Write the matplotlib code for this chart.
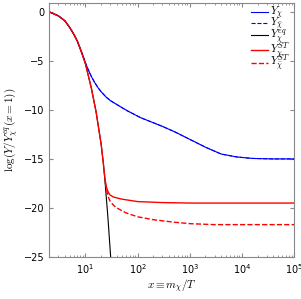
import matplotlib
matplotlib.use("Agg")
import matplotlib.pyplot as plt
from matplotlib.ticker import LogLocator, NullFormatter, MultipleLocator

plt.rcParams['mathtext.fontset'] = 'cm'
plt.rcParams['font.family'] = 'DejaVu Sans'

# equilibrium curve
x_eq = [2, 3, 4, 5, 6, 7, 8, 10, 13, 16, 20, 22, 24, 27, 30, 31]
y_eq = [0.0, -0.4, -0.9, -1.6, -2.3, -3.0, -3.8, -5.3, -7.8, -10.2, -13.5, -15.4, -17.6, -21.0, -24.5, -25.5]

# Y_chi (blue), tracks eq until x ~ 10
x_chi = [2, 3, 4, 5, 6, 7, 8, 9, 10, 11, 12, 13, 15, 17.5, 20, 25, 30, 46, 64, 115, 275, 500,
         1000, 2000, 4000, 8000, 16000, 40000, 100000]
y_chi = [0.0, -0.4, -0.9, -1.6, -2.3, -3.0, -3.8, -4.5, -5.2, -5.75, -6.2, -6.6, -7.2, -7.75,
         -8.15, -8.7, -9.05, -9.65, -10.1, -10.8, -11.6, -12.2, -13.0, -13.8, -14.5, -14.8,
         -14.95, -15.0, -15.0]

# semi-thermal solutions (red)
x_st = [2, 3, 4, 5, 6, 7, 8, 10, 13, 16, 20, 22, 23, 24, 25, 26, 28, 30, 35, 50, 100,
        300, 1000, 100000]
y_st = [0.0, -0.4, -0.9, -1.6, -2.3, -3.0, -3.8, -5.3, -7.8, -10.2, -13.5, -15.4,
        -16.4, -17.2, -17.75, -18.1, -18.5, -18.7, -18.9, -19.1, -19.35, -19.45, -19.5, -19.5]
x_stbar = [24, 25, 26, 28, 30, 35, 40, 60, 100, 200, 500, 1000, 3000, 100000]
y_stbar = [-17.4, -17.9, -18.4, -19.0, -19.35, -19.75, -20.0, -20.5, -20.9, -21.2,
           -21.45, -21.6, -21.7, -21.7]

labels = [r'$Y_\chi$', r'$Y_{\bar\chi}$', r'$Y_\chi^{eq}$', r'$Y_\chi^{ST}$', r'$Y_{\bar\chi}^{ST}$']

fig = plt.figure(figsize=(3.01, 2.99), dpi=100)
ax = fig.add_axes([49/301, 42/299, 245/301, 254/299])

lines = []
lines += ax.plot(x_chi, y_chi, color='#0000ff', lw=0.8)
lines += ax.plot(x_chi, y_chi, color='#0000ff', lw=0.8, ls='--')
lines += ax.plot(x_eq, y_eq, color='black', lw=0.8)
lines += ax.plot(x_st, y_st, color='#ff0000', lw=1.0)
lines += ax.plot(x_stbar, y_stbar, color='#ff0000', lw=1.0, ls='--')

ax.set_xscale('log')
ax.set_xlim(2, 1e5)
ax.set_ylim(-25, 0.9)
ax.yaxis.set_major_locator(MultipleLocator(5))
ax.xaxis.set_minor_locator(LogLocator(base=10, subs=range(2, 10), numticks=20))
ax.xaxis.set_minor_formatter(NullFormatter())

ax.tick_params(which='both', direction='in', top=True, right=True, labelsize=7, color='#888888')
ax.tick_params(which='major', length=3)
ax.tick_params(which='minor', length=1.5)
for s in ax.spines.values():
    s.set_color('#888888')

ax.set_xlabel(r'$x\equiv m_\chi/T$', fontsize=8, labelpad=1)
ax.set_ylabel(r'$\log(Y/Y_\chi^{eq}(x=1))$', fontsize=8, labelpad=2)

# hand-placed legend rows (tight spacing like the original)
row_y = [0.965, 0.921, 0.874, 0.815, 0.764]
for ln, lab, yy in zip(lines, labels, row_y):
    ax.plot([0.824, 0.894], [yy, yy], transform=ax.transAxes, color=ln.get_color(),
            ls=ln.get_linestyle(), lw=ln.get_linewidth(), clip_on=False)
    ax.text(0.902, yy - 0.013, lab, transform=ax.transAxes, fontsize=8,
            ha='left', va='baseline')

fig.savefig('out.png', dpi=100)
